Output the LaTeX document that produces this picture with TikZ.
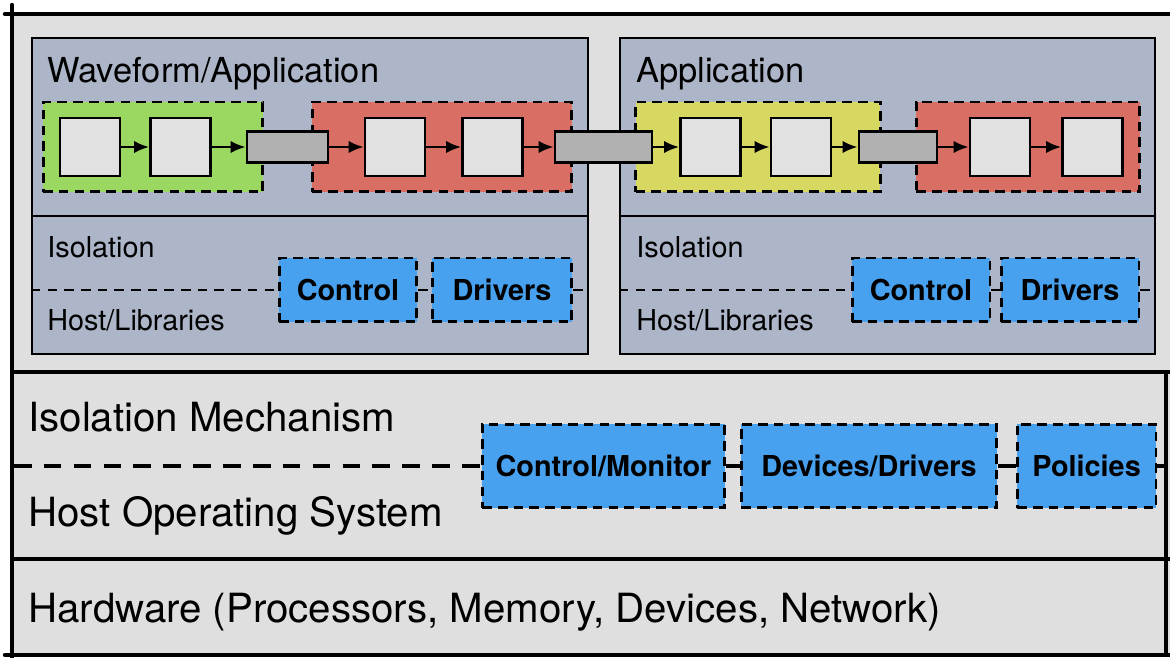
\documentclass[tikz,border=0pt]{standalone}
\usepackage{fontspec}
\setmainfont{TeX Gyre Heros}
\usepackage{tikz}
\usetikzlibrary{arrows,arrows.meta,positioning,calc}
\usepackage{xcolor}

\definecolor{bggray}{HTML}{DFDFDF}
\definecolor{panelblue}{HTML}{ADB5C8}
\definecolor{blockgray}{HTML}{E1E1E1}
\definecolor{linkgray}{HTML}{B1B1B1}
\definecolor{grpgreen}{HTML}{9BD862}
\definecolor{grpred}{HTML}{D86E64}
\definecolor{grpyellow}{HTML}{D6D862}
\definecolor{ctlblue}{HTML}{47A1EE}

\begin{document}
\begin{tikzpicture}[
    x=0.02cm, y=-0.02cm,
    frame/.style={line width=2.5pt, line cap=round},
    panel/.style={rectangle, draw, line width=1.4pt, fill=panelblue, inner sep=0pt},
    grp/.style={rectangle, draw, dashed, dash pattern=on 5.5pt off 3.5pt, line width=1.7pt, minimum height=1.8cm, inner sep=0pt},
    block/.style={rectangle, draw, line width=1.6pt, fill=blockgray, minimum width=1.2cm, minimum height=1.16cm, inner sep=0pt},
    link/.style={rectangle, draw, line width=1.6pt, fill=linkgray, minimum height=0.62cm, inner sep=0pt},
    ctl/.style={rectangle, draw, dashed, dash pattern=on 5.5pt off 3.5pt, line width=1.7pt, fill=ctlblue, inner sep=0pt, font=\fontsize{16.4pt}{19pt}\selectfont\bfseries},
    sep/.style={dashed, dash pattern=on 5.5pt off 4pt, line width=1.4pt},
    bigsep/.style={dashed, dash pattern=on 10pt off 7pt, line width=1.9pt},
    flow/.style={-{Latex[length=8.5pt,width=7pt]}, line width=1.4pt},
    title/.style={anchor=base west, inner sep=0pt, font=\fontsize{19.6pt}{23pt}\selectfont},
    small/.style={anchor=base west, inner sep=0pt, font=\fontsize{16.4pt}{19pt}\selectfont},
    big/.style={anchor=base west, inner sep=0pt, font=\fontsize{22.9pt}{27pt}\selectfont}
  ]
    \useasboundingbox (0,0) rectangle (1170,658);

    % Background and layer frame
    \fill[bggray] (12,14) rectangle (1170,655);
    \draw[frame] (5,14) -- (1170,14);
    \draw[frame] (12,5) -- (12,658);
    \draw[frame] (5,655) -- (1170,655);
    \draw[line width=1.9pt] (12,372) -- (1170,372);
    \draw[line width=1.9pt] (12,559) -- (1170,559);
    \draw[line width=1.9pt] (1166,372) -- (1166,655);

    % Waveform panel
    \node[panel, minimum width=11.12cm, minimum height=6.32cm] (wfpanel) at (310,196) {};
    \draw[line width=1.4pt] (wfpanel.west |- 0,216) -- (wfpanel.east |- 0,216);
    \node[title] (wftitle) at (47,83) {Waveform/Application};

    % Application panel
    \node[panel, minimum width=10.7cm, minimum height=6.32cm] (appanel) at (887.5,196) {};
    \draw[line width=1.4pt] (appanel.west |- 0,216) -- (appanel.east |- 0,216);
    \node[title] (aptitle) at (636,83) {Application};

    % Component groups
    \node[grp, fill=grpgreen, minimum width=4.4cm] (grpa) at (153,147) {};
    \node[grp, fill=grpred, minimum width=5.2cm] (grpb) at (442,147) {};
    \node[grp, fill=grpyellow, minimum width=4.9cm] (grpc) at (758,147) {};
    \node[grp, fill=grpred, minimum width=4.48cm] (grpd) at (1028,147) {};

    % Components and links
    \node[block] (blka) at (90,147) {};
    \node[block] (blkb) at (180.5,147) {};
    \node[link, minimum width=1.62cm] (lnka) at (287.5,147) {};
    \node[block] (blkc) at (395,147) {};
    \node[block] (blkd) at (492.5,147) {};
    \node[link, minimum width=1.94cm] (lnkb) at (603.5,147) {};
    \node[block] (blke) at (710.5,147) {};
    \node[block] (blkf) at (801,147) {};
    \node[link, minimum width=1.56cm] (lnkc) at (898,147) {};
    \node[block] (blkg) at (1000,147) {};
    \node[block] (blkh) at (1092.5,147) {};

    \draw[flow] (blka) -- (blkb);
    \draw[flow] (blkb) -- (lnka);
    \draw[flow] (lnka) -- (blkc);
    \draw[flow] (blkc) -- (blkd);
    \draw[flow] (blkd) -- (lnkb);
    \draw[flow] (lnkb) -- (blke);
    \draw[flow] (blke) -- (blkf);
    \draw[flow] (blkf) -- (lnkc);
    \draw[flow] (lnkc) -- (blkg);
    \draw[flow] (blkg) -- (blkh);

    % Isolation / host split inside the panels
    \node[small] (wfiso) at (47,258) {Isolation};
    \node[small] (wfhost) at (47,331) {Host/Libraries};
    \node[ctl, minimum width=2.76cm, minimum height=1.28cm] (wfctl) at (348,290) {Control};
    \node[ctl, minimum width=2.8cm, minimum height=1.28cm] (wfdrv) at (502,290) {Drivers};
    \draw[sep] (wfpanel.west |- wfctl) -- (wfctl.west);
    \draw[sep] (wfctl.east) -- (wfdrv.west);
    \draw[sep] (wfdrv.east) -- (wfpanel.east |- wfdrv);

    \node[small] (apiso) at (636,258) {Isolation};
    \node[small] (aphost) at (636,331) {Host/Libraries};
    \node[ctl, minimum width=2.76cm, minimum height=1.28cm] (apctl) at (921,290) {Control};
    \node[ctl, minimum width=2.76cm, minimum height=1.28cm] (apdrv) at (1070,290) {Drivers};
    \draw[sep] (appanel.west |- apctl) -- (apctl.west);
    \draw[sep] (apctl.east) -- (apdrv.west);
    \draw[sep] (apdrv.east) -- (appanel.east |- apdrv);

    % Host operating system layer
    \node[big] (isomech) at (28,432) {Isolation Mechanism};
    \node[big] (hostos) at (28,526) {Host Operating System};
    \node[ctl, minimum width=4.86cm, minimum height=1.68cm] (monitor) at (603.5,466) {Control/Monitor};
    \node[ctl, minimum width=5.12cm, minimum height=1.68cm] (devices) at (869,466) {Devices/Drivers};
    \node[ctl, minimum width=2.78cm, minimum height=1.68cm] (policies) at (1086.5,466) {Policies};
    \coordinate (osleft) at (14,466);
    \coordinate (osright) at (1166,466);
    \draw[bigsep] (osleft) -- (monitor.west);
    \draw[bigsep] (monitor.east) -- (devices.west);
    \draw[bigsep] (devices.east) -- (policies.west);
    \draw[bigsep] (policies.east) -- (osright);

    % Hardware layer
    \node[big] (hw) at (28,622) {Hardware (Processors, Memory, Devices, Network)};
  \end{tikzpicture}
\end{document}
